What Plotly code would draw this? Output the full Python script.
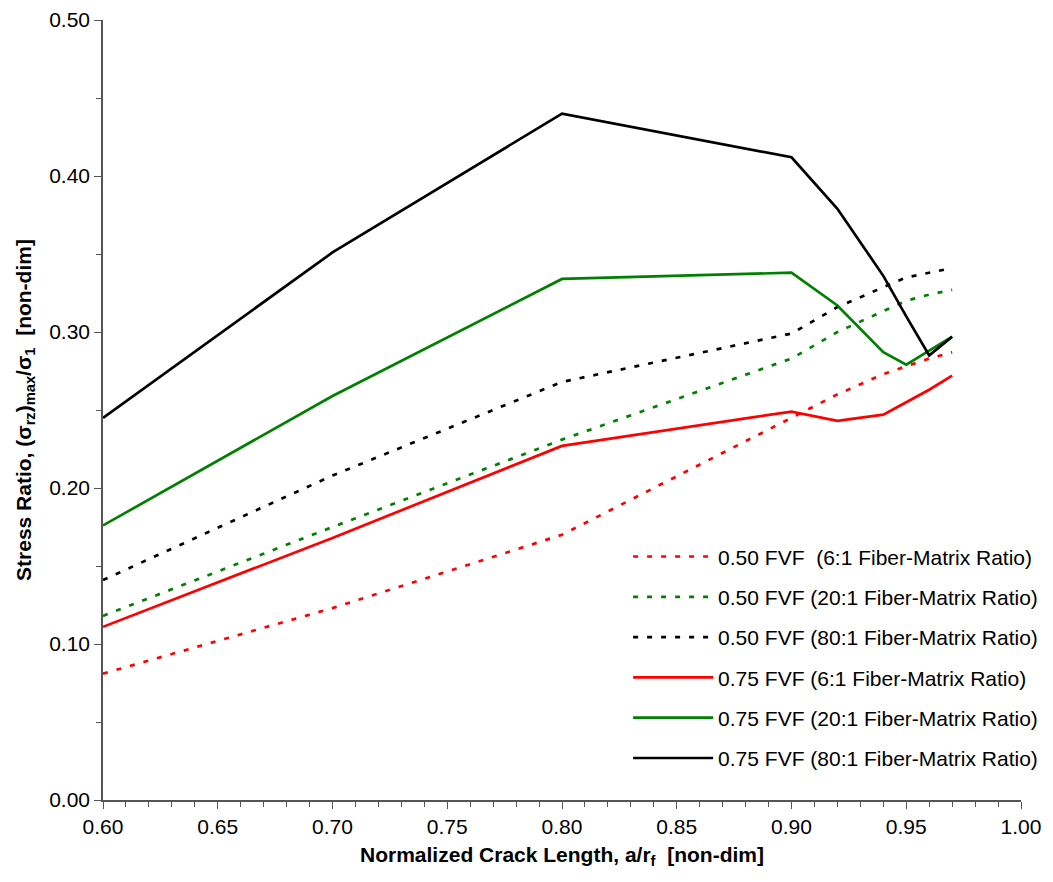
import plotly.graph_objects as go

x_vals = [0.60, 0.70, 0.80, 0.90, 0.92, 0.94, 0.95, 0.96, 0.97]

fvf50_6 = [0.081, 0.123, 0.170, 0.245, 0.260, 0.273, 0.278, 0.283, 0.287]
fvf50_20 = [0.118, 0.175, 0.231, 0.283, 0.300, 0.313, 0.320, 0.324, 0.327]
fvf50_80 = [0.141, 0.208, 0.268, 0.299, 0.316, 0.329, 0.335, 0.338, 0.341]
fvf75_6 = [0.111, 0.168, 0.227, 0.249, 0.243, 0.247, 0.255, 0.263, 0.272]
fvf75_20 = [0.176, 0.259, 0.334, 0.338, 0.317, 0.287, 0.279, 0.288, 0.297]
fvf75_80 = [0.245, 0.351, 0.440, 0.412, 0.379, 0.336, 0.310, 0.285, 0.297]

series_names = [
    "0.50 FVF  (6:1 Fiber-Matrix Ratio)",
    "0.50 FVF (20:1 Fiber-Matrix Ratio)",
    "0.50 FVF (80:1 Fiber-Matrix Ratio)",
    "0.75 FVF (6:1 Fiber-Matrix Ratio)",
    "0.75 FVF (20:1 Fiber-Matrix Ratio)",
    "0.75 FVF (80:1 Fiber-Matrix Ratio)",
]
series_values = [fvf50_6, fvf50_20, fvf50_80, fvf75_6, fvf75_20, fvf75_80]
colors = ["#FF0000", "#008000", "#000000", "#FF0000", "#008000", "#000000"]
dashes = ["5px,9px", "5px,9px", "5px,9px", "solid", "solid", "solid"]

fig = go.Figure()
for i, (name, vals) in enumerate(zip(series_names, series_values)):
    fig.add_trace(go.Scatter(
        x=x_vals, y=vals, mode="lines", name=name,
        legendgroup=f"g{i}",
        line=dict(color=colors[i], width=2.7, dash=dashes[i]),
    ))

font_family = "Liberation Sans, Arial, sans-serif"
axis_color = "#555555"

fig.update_layout(
    width=1053, height=882,
    margin=dict(l=95, r=40, t=12, b=90, autoexpand=False),
    paper_bgcolor="white", plot_bgcolor="white",
    font=dict(family=font_family, size=21, color="black"),
    showlegend=True,
    legend=dict(
        x=0.572, y=0.338, xanchor="left", yanchor="top",
        bgcolor="rgba(0,0,0,0)", borderwidth=0,
        font=dict(family=font_family, size=21, color="black"),
        tracegroupgap=10, traceorder="grouped",
        itemwidth=80,
    ),
    xaxis=dict(
        range=[0.60, 1.00], dtick=0.05, tick0=0.6, tickformat=".2f",
        automargin=False,
        showgrid=False, zeroline=False,
        showline=True, linecolor=axis_color, linewidth=1.5,
        ticks="outside", ticklen=7, tickcolor=axis_color, tickwidth=1.2,
        minor=dict(dtick=0.01, ticks="outside", ticklen=5, tickcolor=axis_color, showgrid=False),
        tickfont=dict(size=21),
        title=dict(text="<b>Normalized Crack Length, a/r<sub>f</sub>  [non-dim]</b>",
                   font=dict(size=21), standoff=10),
    ),
    yaxis=dict(
        range=[0, 0.50], dtick=0.10, tick0=0, tickformat=".2f",
        automargin=False,
        showgrid=False, zeroline=False,
        showline=True, linecolor=axis_color, linewidth=1.5,
        ticks="outside", ticklen=7, tickcolor=axis_color, tickwidth=1.2,
        minor=dict(dtick=0.05, ticks="outside", ticklen=5, tickcolor=axis_color, showgrid=False),
        tickfont=dict(size=21),
        title=dict(text="<b>Stress Ratio, (σ<sub>rz</sub>)<sub>max</sub>/σ<sub>1</sub>  [non-dim]</b>",
                   font=dict(size=21), standoff=12),
    ),
)

fig.write_html("out.html")
